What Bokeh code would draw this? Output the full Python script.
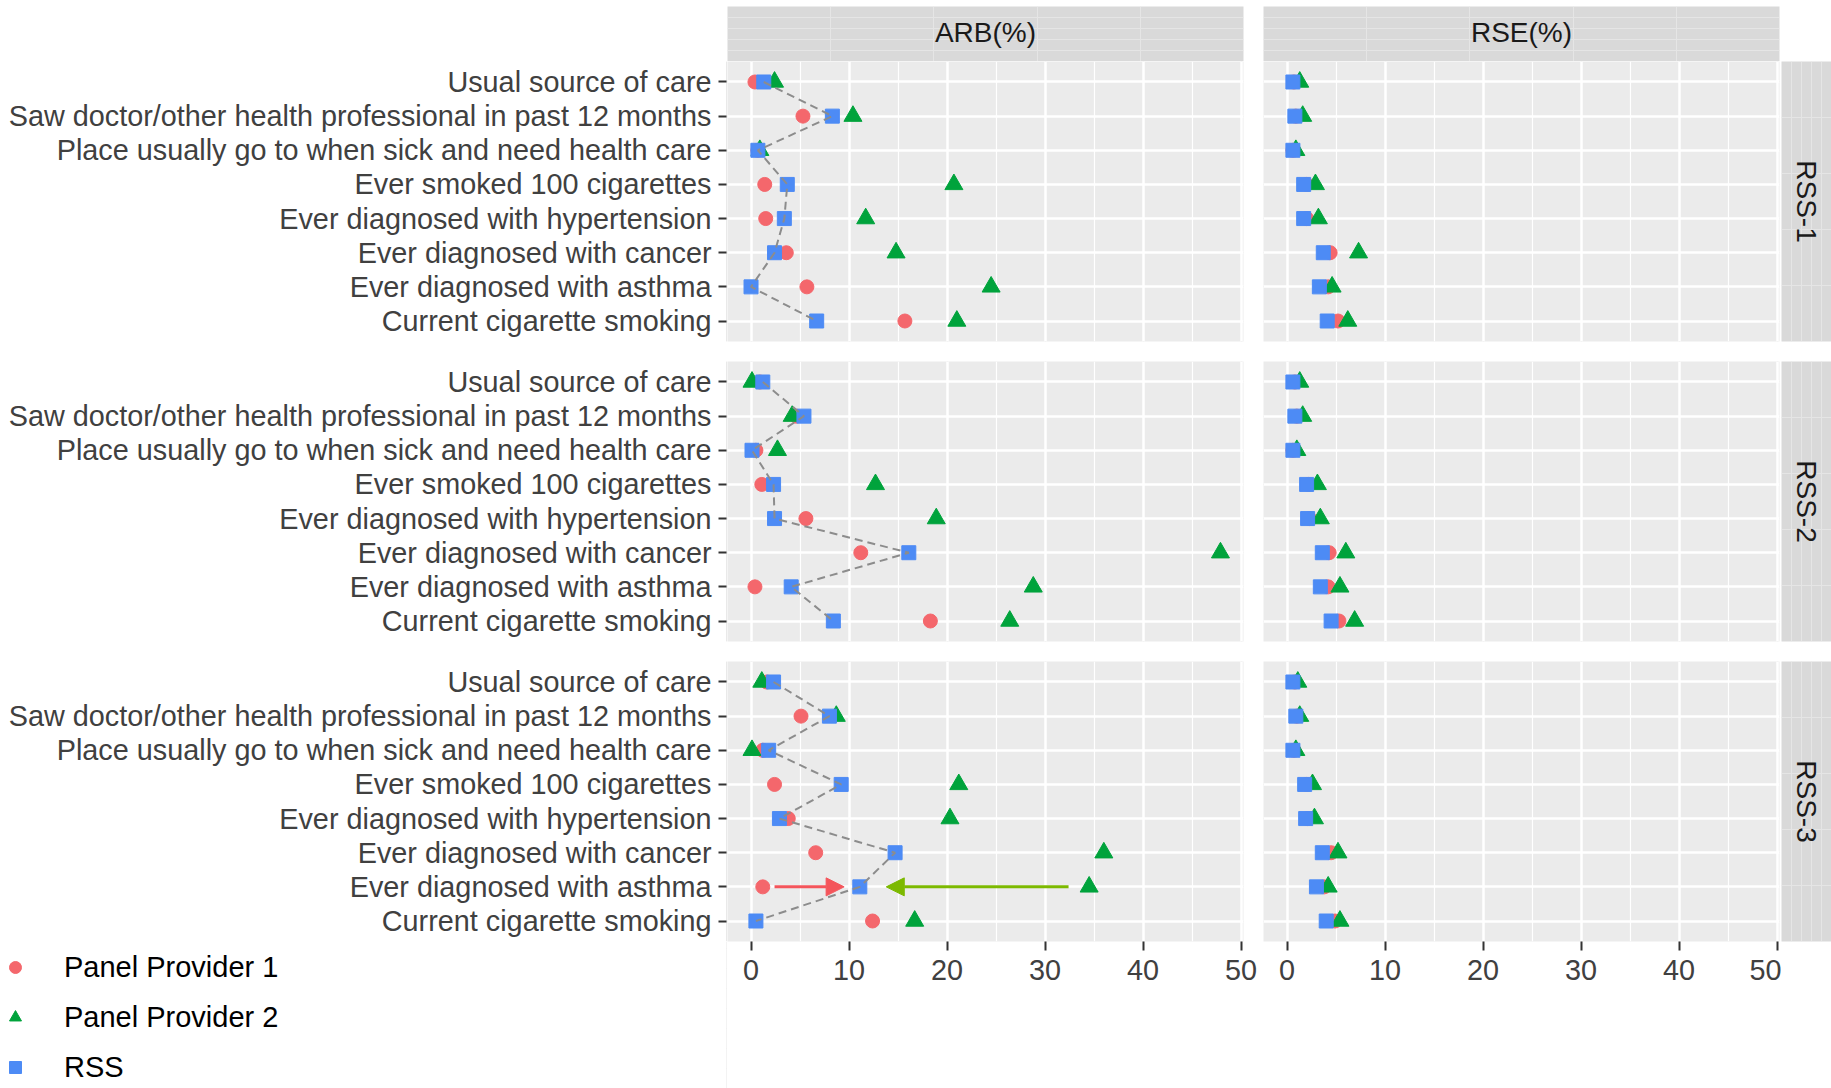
import math
from bokeh.plotting import figure
from bokeh.models import (FactorRange, Range1d, ColumnDataSource, FixedTicker, Grid,
                          CategoricalAxis, LinearAxis, CategoricalTicker, Legend, LegendItem,
                          Arrow, NormalHead, BoxAnnotation)
from bokeh.layouts import row, column
from bokeh.embed import file_html
from bokeh.resources import INLINE
from bokeh.core.properties import value

# ---------------- data ----------------
categories = [
    "Usual source of care",
    "Saw doctor/other health professional in past 12 months",
    "Place usually go to when sick and need health care",
    "Ever smoked 100 cigarettes",
    "Ever diagnosed with hypertension",
    "Ever diagnosed with cancer",
    "Ever diagnosed with asthma",
    "Current cigarette smoking",
]
facets = ["RSS-1", "RSS-2", "RSS-3"]
metrics = ["ARB(%)", "RSE(%)"]
series = ["Panel Provider 1", "Panel Provider 2", "RSS"]
x_ticks = [0, 10, 20, 30, 40, 50]
x_minor = [5, 15, 25, 35, 45]

arb_rss1_pp1 = [0.4, 5.3, 0.7, 1.4, 1.5, 3.6, 5.7, 15.7]
arb_rss1_pp2 = [2.4, 10.4, 0.9, 20.7, 11.7, 14.8, 24.5, 21.0]
arb_rss1_rss = [1.3, 8.3, 0.7, 3.7, 3.4, 2.4, 0.0, 6.7]

arb_rss2_pp1 = [0.9, 4.6, 0.5, 1.1, 5.6, 11.2, 0.4, 18.3]
arb_rss2_pp2 = [0.1, 4.2, 2.7, 12.7, 18.9, 47.9, 28.8, 26.4]
arb_rss2_rss = [1.2, 5.4, 0.1, 2.3, 2.4, 16.1, 4.1, 8.4]

arb_rss3_pp1 = [1.6, 5.1, 1.2, 2.4, 3.8, 6.6, 1.2, 12.4]
arb_rss3_pp2 = [1.1, 8.7, 0.1, 21.2, 20.3, 36.0, 34.5, 16.7]
arb_rss3_rss = [2.3, 8.0, 1.8, 9.2, 2.9, 14.7, 11.1, 0.5]

rse_rss1_pp1 = [0.7, 0.9, 0.6, 2.0, 2.0, 4.4, 4.2, 5.2]
rse_rss1_pp2 = [1.3, 1.6, 0.9, 2.9, 3.2, 7.3, 4.6, 6.2]
rse_rss1_rss = [0.6, 0.8, 0.6, 1.7, 1.7, 3.7, 3.3, 4.1]

rse_rss2_pp1 = [0.8, 1.0, 0.6, 2.2, 2.3, 4.3, 4.2, 5.3]
rse_rss2_pp2 = [1.3, 1.6, 1.0, 3.1, 3.4, 6.0, 5.4, 6.9]
rse_rss2_rss = [0.6, 0.8, 0.6, 2.0, 2.1, 3.6, 3.4, 4.5]

rse_rss3_pp1 = [0.8, 1.0, 0.7, 2.0, 2.1, 4.5, 3.8, 4.9]
rse_rss3_pp2 = [1.1, 1.3, 0.9, 2.6, 2.8, 5.2, 4.2, 5.4]
rse_rss3_rss = [0.6, 0.9, 0.6, 1.8, 1.9, 3.6, 3.0, 4.0]

# annotation arrows (RSS-3, ARB panel)
arrow_row = "Ever diagnosed with asthma"
arrow_red_x = [2.4, 9.5]      # start, end
arrow_green_x = [32.4, 13.8]  # start, end

arb_data = [(arb_rss1_pp1, arb_rss1_pp2, arb_rss1_rss),
            (arb_rss2_pp1, arb_rss2_pp2, arb_rss2_rss),
            (arb_rss3_pp1, arb_rss3_pp2, arb_rss3_rss)]
rse_data = [(rse_rss1_pp1, rse_rss1_pp2, rse_rss1_rss),
            (rse_rss2_pp1, rse_rss2_pp2, rse_rss2_rss),
            (rse_rss3_pp1, rse_rss3_pp2, rse_rss3_rss)]

# ---------------- style ----------------
RED = "#F4676C"
GREEN = "#00A33C"
BLUE = "#4D8BF5"
PANEL_BG = "#EBEBEB"
STRIP_BG = "#D9D9D9"
TICK_FONT = "Liberation Sans"
TEXT_FONT = "Liberation Sans"
TICK_SIZE = "28.8px"
FRAME_W, FRAME_H = 516, 280
LEFT = 727
GAP = 20
BOTTOM_LAST = 147
KEY_W = 44

xr = Range1d(-2.4, 50.25)
yr = FactorRange(factors=list(reversed(categories)), range_padding=0.1,
                 range_padding_units="absolute")


def base_fig(fw, fh, left, right, top, bottom, bg, x_range=xr, y_range=yr):
    return figure(x_range=x_range, y_range=y_range, frame_width=fw, frame_height=fh,
                  min_border_left=left, min_border_right=right,
                  min_border_top=top, min_border_bottom=bottom,
                  x_axis_location=None, y_axis_location=None,
                  toolbar_location=None, output_backend="svg",
                  background_fill_color=bg, border_fill_color="white",
                  outline_line_color=None)


def add_grids(p):
    p.add_layout(Grid(dimension=0, ticker=FixedTicker(ticks=x_ticks, minor_ticks=x_minor),
                      grid_line_color="white", grid_line_width=2.5,
                      minor_grid_line_color="white", minor_grid_line_width=1.2))
    p.add_layout(Grid(dimension=1, ticker=CategoricalTicker(),
                      grid_line_color="white", grid_line_width=2.5))


def add_xaxis(p):
    ax = LinearAxis(ticker=FixedTicker(ticks=x_ticks),
                    major_label_text_font=TICK_FONT, major_label_text_font_size=TICK_SIZE,
                    major_label_text_color="#404040", major_tick_out=9, major_tick_in=0,
                    major_tick_line_width=2, major_tick_line_color="#333333",
                    minor_tick_out=0, minor_tick_in=0, axis_line_color=None,
                    major_label_standoff=9)
    p.add_layout(ax, "below")


def label_fig(bottom):
    # carries the category axis to the left of the ARB panel
    p = base_fig(1, FRAME_H, LEFT - 1, 0, 0, bottom, "white")
    ya = CategoricalAxis(major_label_text_font=TICK_FONT, major_label_text_font_size=TICK_SIZE,
                         major_label_text_color="#404040", major_tick_out=8, major_tick_in=0,
                         major_tick_line_width=2, major_tick_line_color="#333333",
                         axis_line_color=None, major_label_standoff=7)
    p.add_layout(ya, "left")
    return p


def panel(metric_idx, facet_idx):
    last = facet_idx == 2
    bottom = BOTTOM_LAST if last else GAP
    if metric_idx == 0:
        p = base_fig(FRAME_W, FRAME_H, 0, GAP, 0, bottom, PANEL_BG)
        pp1, pp2, rss = arb_data[facet_idx]
    else:
        p = base_fig(FRAME_W, FRAME_H, 0, 2, 0, bottom, PANEL_BG)
        pp1, pp2, rss = rse_data[facet_idx]
    add_grids(p)
    if last:
        add_xaxis(p)
    src = ColumnDataSource(dict(cat=categories, pp1=pp1, pp2=pp2, rss=rss))
    p.scatter("pp1", "cat", source=src, marker="circle", size=14,
              fill_color=RED, line_color=RED)
    p.scatter("pp2", "cat", source=src, marker="triangle", size=18,
              fill_color=GREEN, line_color=GREEN)
    p.scatter("rss", "cat", source=src, marker="square", size=14,
              fill_color=BLUE, line_color=BLUE)
    if metric_idx == 0:
        p.line("rss", "cat", source=src, line_dash="8 5", line_color="#8C8C8C", line_width=2)
    return p


def top_strip(label, left, right):
    s = base_fig(FRAME_W, 55, left, right, 6, 0, STRIP_BG, Range1d(0, 1), Range1d(0, 1))
    s.text(x=[0.5], y=[0.52], text=[label], text_align="center", text_baseline="middle",
           text_font=value(TEXT_FONT), text_font_size="28px", text_color="#1A1A1A")
    return s


def side_strip(label, bottom):
    s = base_fig(50, FRAME_H, 0, 0, 0, bottom, STRIP_BG, Range1d(0, 1), Range1d(0, 1))
    s.text(x=[0.5], y=[0.5], text=[label], text_align="center", text_baseline="middle",
           angle=-math.pi / 2, text_font=value(TEXT_FONT), text_font_size="28px",
           text_color="#1A1A1A")
    return s


def legend_fig():
    # a small figure that only carries the legend (its glyphs fall outside its numeric ranges)
    p = base_fig(LEFT, BOTTOM_LAST, 0, 0, 0, 0, "white", Range1d(0, LEFT), Range1d(0, BOTTOM_LAST))
    key_bg = BoxAnnotation(left=0, right=KEY_W, top=BOTTOM_LAST, bottom=0,
                           fill_color="#EBEBEB", fill_alpha=1.0,
                           line_color="#EBEBEB", line_alpha=1.0, level="underlay")
    p.renderers.append(key_bg)
    src = ColumnDataSource(dict(cat=categories, pp1=arb_rss1_pp1, pp2=arb_rss1_pp2, rss=arb_rss1_rss))
    r1 = p.scatter("pp1", "cat", source=src, marker="circle", size=10, fill_color=RED, line_color=RED)
    r2 = p.scatter("pp2", "cat", source=src, marker="triangle", size=12, fill_color=GREEN, line_color=GREEN)
    r3 = p.scatter("rss", "cat", source=src, marker="square", size=10, fill_color=BLUE, line_color=BLUE)
    legend = Legend(items=[LegendItem(label=series[i], renderers=[r]) for i, r in enumerate([r1, r2, r3])],
                    location=(0, 1), orientation="vertical",
                    background_fill_alpha=0, border_line_color=None,
                    glyph_width=30, glyph_height=40, label_height=40, spacing=10,
                    padding=3, margin=0, label_standoff=34, label_text_font=TEXT_FONT,
                    label_text_font_size="29px", label_text_color="black")
    p.add_layout(legend, "center")
    return p


rows = [row(top_strip(metrics[0], LEFT, GAP), top_strip(metrics[1], 0, 52))]
for fi, fac in enumerate(facets):
    last = fi == 2
    a = panel(0, fi)
    b = panel(1, fi)
    c = side_strip(fac, BOTTOM_LAST if last else GAP)
    if last:
        asrc_r = ColumnDataSource(dict(x0=[arrow_red_x[0]], x1=[arrow_red_x[1]], y=[arrow_row]))
        asrc_g = ColumnDataSource(dict(x0=[arrow_green_x[0]], x1=[arrow_green_x[1]], y=[arrow_row]))
        a.add_layout(Arrow(x_start="x0", y_start="y", x_end="x1", y_end="y", source=asrc_r,
                           line_color="#F4555B", line_width=3,
                           end=NormalHead(size=18, fill_color="#F4555B", line_color="#F4555B")))
        a.add_layout(Arrow(x_start="x0", y_start="y", x_end="x1", y_end="y", source=asrc_g,
                           line_color="#7CB900", line_width=3,
                           end=NormalHead(size=18, fill_color="#7CB900", line_color="#7CB900")))
        left_block = column(label_fig(0), legend_fig())
    else:
        left_block = label_fig(GAP)
    rows.append(row(left_block, a, b, c))

layout = column(*rows)
open("out.html", "w").write(file_html(layout, INLINE))
